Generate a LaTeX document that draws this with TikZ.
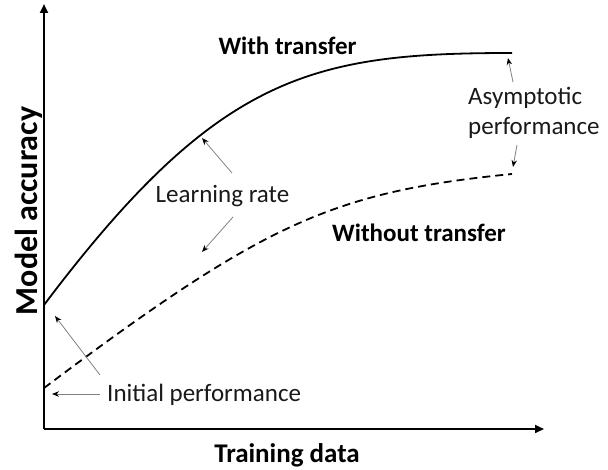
\documentclass[tikz,border=0pt]{standalone}
\usepackage{fontspec}
\setmainfont{Carlito}
\usetikzlibrary{arrows.meta}
\tikzset{
  axis/.style={line width=2.4pt, -{Triangle[length=9pt,width=8pt]}},
  curve/.style={line width=1.8pt},
  dashcurve/.style={line width=1.8pt, dash pattern=on 8pt off 5pt},
  ann/.style={draw=gray, line width=0.8pt, -{Stealth[length=7pt,width=5.5pt,color=black]}},
  lbl/.style={inner sep=0pt, text=black!90, font=\fontsize{25}{30}\selectfont},
  blbl/.style={inner sep=0pt, font=\fontsize{25}{30}\selectfont\bfseries},
}
\begin{document}
\begin{tikzpicture}[x=1pt,y=-1pt]
\useasboundingbox (0,0) rectangle (608,470);
% axes
\coordinate (origin) at (44,429);
\coordinate (ytop) at (44,4);
\coordinate (xend) at (544,429);
\draw[axis] (origin) -- (ytop);
\draw[axis] (origin) -- (xend);
% curves
\coordinate (s0) at (44,305);
\coordinate (s1) at (512,53);
\coordinate (d0) at (44,388);
\coordinate (d1) at (512,174);
\draw[curve] (s0) .. controls (218,74) and (312,53) .. (s1);
\draw[dashcurve] (d0) .. controls (264,223) and (332,192) .. (d1);
% labels
\node[blbl, anchor=base] (with) at (287.5,55) {With transfer};
\node[blbl, anchor=base] (without) at (419,242) {Without transfer};
\node[lbl, anchor=base west] (asym1) at (468,105) {Asymptotic};
\node[lbl, anchor=base west] (asym2) at (468,135) {performance};
\node[lbl, anchor=base] (lr) at (222.5,203) {Learning rate};
\node[lbl, anchor=base west] (init) at (107,402) {Initial performance};
\node[inner sep=0pt, font=\fontsize{27}{32}\selectfont\bfseries, anchor=base] (xlab) at (287,462) {Training data};
\node[inner sep=0pt, font=\fontsize{32}{38}\selectfont\bfseries, anchor=base, rotate=90] (ylab) at (37,211) {Model accuracy};
% annotation arrows
\coordinate (a1s) at (513,82);
\coordinate (a1e) at (508,58);
\coordinate (a2s) at (517,145);
\coordinate (a2e) at (513,167);
\coordinate (l1s) at (232,173);
\coordinate (l1e) at (202,138);
\coordinate (l2s) at (233,217);
\coordinate (l2e) at (202,252);
\coordinate (i1s) at (100,394);
\coordinate (i1e) at (52,394);
\coordinate (i2s) at (100,375);
\coordinate (i2e) at (55,316);
\draw[ann] (a1s) -- (a1e);
\draw[ann] (a2s) -- (a2e);
\draw[ann] (l1s) -- (l1e);
\draw[ann] (l2s) -- (l2e);
\draw[ann] (i1s) -- (i1e);
\draw[ann] (i2s) -- (i2e);
\end{tikzpicture}
\end{document}
